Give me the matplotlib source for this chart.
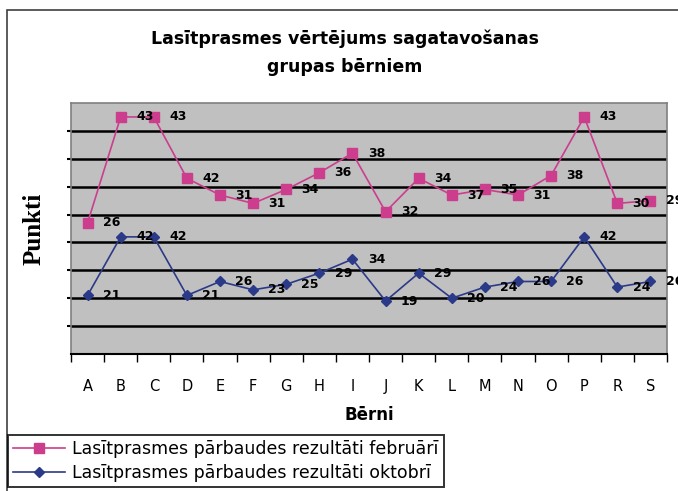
import matplotlib
matplotlib.use("Agg")
import matplotlib.pyplot as plt
from matplotlib.patches import Rectangle
import numpy as np

kids = ["A", "B", "C", "D", "E", "F", "G", "H", "I", "J", "K", "L", "M", "N", "O", "P", "R", "S"]
feb = [26, 43, 43, 42, 31, 31, 34, 36, 38, 32, 34, 37, 35, 31, 38, 43, 30, 29]
okt = [21, 42, 42, 21, 26, 23, 25, 29, 34, 19, 29, 20, 24, 26, 26, 42, 24, 26]

title = "Lasītprasmes vērtējums sagatavošanas\ngrupas bērniem"
leg_feb = "Lasītprasmes pārbaudes rezultāti februārī"
leg_okt = "Lasītprasmes pārbaudes rezultāti oktobrī"

pink = "#cc3d8e"
navy = "#2b3a88"

fig = plt.figure(figsize=(6.78, 4.91), dpi=100)
ax = fig.add_axes([71 / 678, 137 / 491, 596 / 678, 251 / 491])

x = np.arange(len(kids))
# stacked line chart: february sits on top of october
okt_arr = np.array(okt)
feb_top = okt_arr + np.array(feb)

ax.plot(x, feb_top, color=pink, lw=1.2, marker="s", ms=6.5, mec=pink, mfc=pink,
        label=leg_feb, clip_on=False, zorder=4)
ax.plot(x, okt_arr, color=navy, lw=1.2, marker="D", ms=5, mec=navy, mfc=navy,
        label=leg_okt, clip_on=False, zorder=4)

for xi, yi, v in zip(x, feb_top, feb):
    ax.annotate(str(v), (xi, yi), xytext=(11, 0), textcoords="offset points",
                ha="left", va="center", fontsize=9, fontweight="bold",
                annotation_clip=False, zorder=5)
for xi, yi, v in zip(x, okt_arr, okt):
    ax.annotate(str(v), (xi, yi), xytext=(11, 0), textcoords="offset points",
                ha="left", va="center", fontsize=9, fontweight="bold",
                annotation_clip=False, zorder=5)

ax.set_facecolor("#c0c0c0")
ax.set_xlim(-0.5, len(kids) - 0.5)
ax.set_ylim(0, 90)
ax.set_yticks(np.arange(10, 90, 10))
ax.set_yticklabels([])
ax.tick_params(axis="y", length=3, width=1.5, color="black")
ax.grid(axis="y", color="black", lw=1.8)
ax.set_axisbelow(True)

ax.set_xticks(x)
ax.set_xticklabels(kids, fontsize=10.5)
ax.set_xticks(np.arange(-0.5, len(kids), 1), minor=True)
ax.tick_params(axis="x", which="major", length=0, pad=18)
ax.tick_params(axis="x", which="minor", length=6, width=1, color="black")

for side in ["top", "right", "left"]:
    ax.spines[side].set_color("#808080")
    ax.spines[side].set_linewidth(1.2)
ax.spines["bottom"].set_color("black")
ax.spines["bottom"].set_linewidth(1.5)

ax.set_xlabel("Bērni", fontsize=12, fontweight="bold", labelpad=9)
ax.set_ylabel("Punkti", fontsize=18, fontweight="bold", family="Liberation Serif", labelpad=12)

fig.text(0.509, 0.893, title, ha="center", va="center", fontsize=12.5,
         fontweight="bold", linespacing=1.75)

fig.legend(loc="lower left", bbox_to_anchor=(8 / 678, 4 / 491), borderaxespad=0,
           fontsize=12.5, frameon=True, fancybox=False, edgecolor="black",
           handlelength=3, borderpad=0.3, labelspacing=0.35, handletextpad=0.4)
leg = fig.legends[0]
leg.get_frame().set_linewidth(1.4)

fig.patches.append(Rectangle((7 / 678, -0.01), 1.0, 1 - 10 / 491 + 0.01,
                             transform=fig.transFigure, fill=False,
                             ec="#404040", lw=1.2))

fig.savefig("out.png", dpi=100)
